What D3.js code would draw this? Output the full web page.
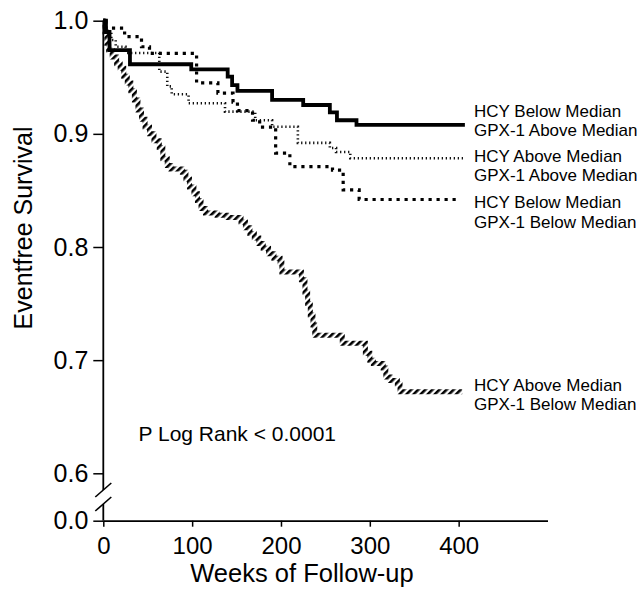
<!DOCTYPE html>
<html><head><meta charset="utf-8">
<script src="https://cdn.jsdelivr.net/npm/d3@7"></script>
<style>
body{margin:0;background:#fff}
svg{display:block}
text{font-family:"Liberation Sans",Arial,Helvetica,sans-serif;fill:#000}
</style>
</head><body>
<svg id="chart" width="640" height="589"></svg>
<script>
// ---- data ----
const xTicks = [0, 100, 200, 300, 400];
const yTicks = [0.0, 0.6, 0.7, 0.8, 0.9, 1.0];

// HCY Below Median / GPX-1 Above Median (solid)
const weeksA = [0, 3, 7, 30, 99, 140, 145, 151, 190, 225, 255, 263, 285, 407];
const survA  = [1.0, 0.99, 0.974, 0.9615, 0.957, 0.9505, 0.943, 0.938, 0.930, 0.9255, 0.919, 0.912, 0.908, 0.908];

// HCY Above Median / GPX-1 Above Median (thin dotted)
const weeksB = [0, 3, 9, 14, 25, 63, 72, 77, 96, 137, 171, 190, 219, 255, 262, 278, 405];
const survB  = [1.0, 0.99, 0.983, 0.977, 0.9715, 0.955, 0.942, 0.935, 0.927, 0.9196, 0.912, 0.9063, 0.892, 0.8875, 0.884, 0.8784, 0.8784];

// HCY Below Median / GPX-1 Below Median (square dots)
const weeksC = [0, 2, 24, 43, 52, 105, 129, 146, 151, 168, 176, 194, 210, 258, 270, 288, 400];
const survC  = [1.0, 0.9935, 0.986, 0.977, 0.9712, 0.945, 0.936, 0.928, 0.9205, 0.912, 0.906, 0.883, 0.871, 0.868, 0.8504, 0.842, 0.842];

// HCY Above Median / GPX-1 Below Median (hatched)
const weeksD = [0, 2, 4, 6, 10, 15, 19, 23, 27, 31, 35, 39, 43, 47, 52, 57, 63, 67, 72, 76, 89, 93, 97, 102, 106, 110, 115, 128, 139, 155, 160, 165, 170, 175, 180, 186, 192, 199, 201, 223, 227, 230, 233, 236, 238, 269, 295, 300, 304, 315, 318, 323, 331, 334, 404];
const survD  = [1.0, 0.99, 0.98, 0.974, 0.968, 0.962, 0.958, 0.951, 0.945, 0.938, 0.930, 0.921, 0.913, 0.906, 0.900, 0.894, 0.888, 0.878, 0.872, 0.869, 0.866, 0.860, 0.853, 0.847, 0.841, 0.834, 0.830, 0.828, 0.826, 0.822, 0.817, 0.812, 0.808, 0.803, 0.799, 0.794, 0.790, 0.786, 0.778, 0.771, 0.760, 0.750, 0.740, 0.731, 0.722, 0.715, 0.706, 0.700, 0.697, 0.693, 0.685, 0.682, 0.679, 0.672, 0.672];

const labelsA = ["HCY Below Median", "GPX-1 Above Median"];
const labelsB = ["HCY Above Median", "GPX-1 Above Median"];
const labelsC = ["HCY Below Median", "GPX-1 Below Median"];
const labelsD = ["HCY Above Median", "GPX-1 Below Median"];
const xTitle = "Weeks of Follow-up";
const yTitle = "Eventfree Survival";
const pText = "P Log Rank < 0.0001";

// ---- drawing ----
const svg = d3.select("#chart");
const x = d3.scaleLinear().domain([0, 500]).range([103.3, 547.5]);
const y = d3.scaleLinear().domain([0, 0.6, 1.0]).range([520.7, 473.3, 20.7]);

const defs = svg.append("defs");
const pat = defs.append("pattern").attr("id", "hatch")
  .attr("patternUnits", "userSpaceOnUse").attr("width", 5).attr("height", 5)
  .attr("patternTransform", "rotate(45)");
pat.append("rect").attr("x", 0).attr("y", 0).attr("width", 2.6).attr("height", 5).attr("fill", "#000");

// axes
const xAxis = svg.append("g").attr("transform", `translate(0,${y(0)})`)
  .call(d3.axisBottom(x).tickValues(xTicks).tickSize(6).tickSizeOuter(0).tickPadding(10));
xAxis.select(".domain").attr("stroke", "#000").attr("stroke-width", 1.8);
xAxis.selectAll(".tick line").attr("stroke", "#000").attr("stroke-width", 1.5);
xAxis.selectAll(".tick text").style("font-size", "24px").attr("fill", "#000");

const yAxis = svg.append("g").attr("transform", `translate(${x(0)},0)`)
  .call(d3.axisLeft(y).tickValues(yTicks).tickFormat(d3.format(".1f")).tickSize(10).tickPadding(5));
yAxis.select(".domain").remove();
yAxis.selectAll(".tick line").attr("stroke", "#000").attr("stroke-width", 1.5);
yAxis.selectAll(".tick text").style("font-size", "25px").attr("fill", "#000");

// broken y axis line
const x0 = x(0);
const mid = (y(0) + y(0.6)) / 2;
svg.append("line").attr("x1", x0).attr("x2", x0).attr("y1", y(1.0)).attr("y2", mid - 7)
  .attr("stroke", "#000").attr("stroke-width", 1.8);
svg.append("line").attr("x1", x0).attr("x2", x0).attr("y1", mid + 7).attr("y2", y(0))
  .attr("stroke", "#000").attr("stroke-width", 1.8);
[-7, 7].forEach(off => {
  svg.append("line").attr("x1", x0 - 8).attr("y1", mid + off + 7).attr("x2", x0 + 8).attr("y2", mid + off - 7)
    .attr("stroke", "#000").attr("stroke-width", 1.6);
});

// curves
const line = d3.line().x(d => x(d[0])).y(d => y(d[1])).curve(d3.curveStepAfter);
const zip = (w, s) => w.map((v, i) => [v, s[i]]);

svg.append("path").attr("d", line(zip(weeksD, survD)))
  .attr("fill", "none").attr("stroke", "url(#hatch)").attr("stroke-width", 5);
svg.append("path").attr("d", line(zip(weeksB, survB)))
  .attr("fill", "none").attr("stroke", "#111").attr("stroke-width", 2.6).attr("stroke-dasharray", "1.3,2.7");
svg.append("path").attr("d", line(zip(weeksC, survC)))
  .attr("fill", "none").attr("stroke", "#000").attr("stroke-width", 3.2).attr("stroke-dasharray", "3.2,4.8");
svg.append("path").attr("d", line(zip(weeksA, survA)))
  .attr("fill", "none").attr("stroke", "#000").attr("stroke-width", 3.8);

// series labels
const labelX = 474;
function twoLines(lines, yBase) {
  lines.forEach((t, i) => {
    svg.append("text").attr("x", labelX).attr("y", yBase + i * 19.5)
      .style("font-size", "17px").text(t);
  });
}
twoLines(labelsA, 116.7);
twoLines(labelsB, 161.7);
twoLines(labelsC, 208);
twoLines(labelsD, 390.5);

// p value
svg.append("text").attr("x", 138.5).attr("y", 440.5).style("font-size", "21px").text(pText);

// titles
svg.append("text").attr("x", 302).attr("y", 582).attr("text-anchor", "middle")
  .style("font-size", "25.5px").text(xTitle);
svg.append("text").attr("transform", "translate(32,228) rotate(-90)").attr("text-anchor", "middle")
  .style("font-size", "25px").text(yTitle);
</script>
</body></html>
